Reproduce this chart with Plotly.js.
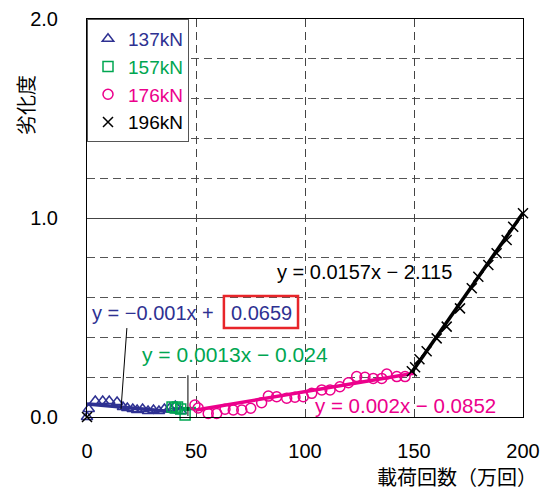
<!DOCTYPE html>
<html><head><meta charset="utf-8">
<script src="https://cdn.plot.ly/plotly-3.0.1.min.js"></script>
<style>body{margin:0;background:#fff}#c{width:545px;height:491px}</style>
</head><body><div id="c"></div>
<script>
// Data
const names = ['137kN', '157kN', '176kN', '196kN'];
const colors = ['#2E3192', '#00A651', '#EC008C', '#000000'];

const x137 = [0, 0.8, 3.8, 7.2, 10.2, 13.8, 16.5, 18.5, 21, 23, 25.5, 28, 30.5, 33, 35.5, 38, 40.5, 43];
const y137 = [0, 0.04, 0.08, 0.08, 0.08, 0.075, 0.05, 0.045, 0.04, 0.035, 0.04, 0.03, 0.035, 0.03, 0.04, 0.045, 0.055, 0.03];

const x157 = [39, 40.5, 41.5, 43, 45];
const y157 = [0.05, 0.045, 0.05, 0.04, 0.01];

const x176 = [49.5, 51, 55.6, 59.5, 63.3, 67.1, 71, 75.1, 80.1, 83.2, 87, 91.6, 95.4, 99.2, 103.1, 107.7, 111.5, 116, 119.9, 123.7, 127.5, 131.3, 135.2, 137.5, 142.1, 145.9];
const y176 = [0.06, 0.045, 0.018, 0.018, 0.039, 0.035, 0.035, 0.044, 0.072, 0.105, 0.102, 0.094, 0.099, 0.102, 0.119, 0.136, 0.136, 0.152, 0.172, 0.203, 0.2, 0.194, 0.194, 0.216, 0.203, 0.203];

const x196 = [0, 149, 150.5, 152.5, 155.8, 160.4, 165, 171.1, 176.5, 179.5, 184.1, 187.9, 192.5, 195.5, 200];
const y196 = [0, 0.23, 0.25, 0.29, 0.33, 0.395, 0.454, 0.546, 0.647, 0.705, 0.764, 0.823, 0.889, 0.956, 1.024];

// Trendline end points
const tx137 = [0, 41], ty137 = [0.066, 0.025];
const tx157 = [39, 50], ty157 = [0.04, 0.043];
const tx176 = [50, 150], ty176 = [0.035, 0.22];
const tx196 = [149, 200], ty196 = [0.225, 1.025];

const eq137a = 'y = −0.001x +', eq137b = '0.0659';
const eq157 = 'y = 0.0013x − 0.024';
const eq176 = 'y = 0.002x − 0.0852';
const eq196 = 'y = 0.0157x − 2.115';

const xTicks = [0, 50, 100, 150, 200];
const yTicks = [0, 1, 2];
const yTickText = ['0.0', '1.0', '2.0'];
const xTitle = '載荷回数（万回）';
const yTitle = '劣化度';

const F = 'Liberation Sans, Arial, sans-serif';
const J = 'Noto Sans CJK JP, sans-serif';

const symbols = ['triangle-up-open', 'square-open', 'circle-open', 'x-thin-open'];
const xs = [x137, x157, x176, x196], ys = [y137, y157, y176, y196];
const txs = [tx137, tx157, tx176, tx196], tys = [ty137, ty157, ty176, ty196];

const traces = [];
for (let i = 0; i < 4; i++) {
  traces.push({
    x: txs[i], y: tys[i], mode: 'lines', showlegend: false, hoverinfo: 'skip',
    line: {color: colors[i], width: 3.5}
  });
}
for (let i = 0; i < 4; i++) {
  traces.push({
    x: xs[i], y: ys[i], mode: 'markers', cliponaxis: false,
    name: '<span style="color:' + colors[i] + '">' + names[i] + '</span>',
    marker: {symbol: symbols[i], size: 10, color: colors[i],
             line: {color: colors[i], width: 1.5}}
  });
}

const layout = {
  width: 545, height: 491,
  margin: {l: 87, r: 22, t: 19, b: 74},
  paper_bgcolor: '#fff', plot_bgcolor: '#fff',
  showlegend: true,
  legend: {x: 0, y: 1, xanchor: 'left', yanchor: 'top', bgcolor: '#fff',
           bordercolor: '#555', borderwidth: 1, font: {family: F, size: 19},
           itemwidth: 30, tracegroupgap: 0},
  xaxis: {range: [0, 200], tickvals: xTicks, ticks: '', showline: true, mirror: true,
          linecolor: '#000', linewidth: 1, showgrid: true, gridcolor: '#444', griddash: '8px,5px',
          gridwidth: 1, zeroline: false, tickfont: {family: F, size: 20, color: '#000'},
          ticklabelstandoff: 16},
  yaxis: {range: [0, 2], tickvals: yTicks, ticktext: yTickText, ticks: '', showline: true, mirror: true,
          linecolor: '#000', linewidth: 1, showgrid: true, gridcolor: '#444', gridwidth: 1,
          zeroline: false, tickfont: {family: F, size: 20, color: '#000'}, ticklabelstandoff: 24,
          minor: {dtick: 0.2, tick0: 0, showgrid: true, gridcolor: '#555', griddash: '8px,5px', gridwidth: 1}},
  annotations: [
    {text: yTitle, xref: 'paper', yref: 'paper', x: -0.14, y: 0.784, xanchor: 'center', yanchor: 'middle',
     textangle: -90, showarrow: false, font: {family: J, size: 20, color: '#000'}},
    {text: xTitle, xref: 'paper', yref: 'paper', x: 1.036, y: -0.149, xanchor: 'right', yanchor: 'middle',
     showarrow: false, font: {family: J, size: 20, color: '#000'}},
    {text: eq196, x: 86.2, y: 0.729, xanchor: 'left', showarrow: false,
     font: {family: F, size: 20, color: colors[3]}},
    {text: eq137a, x: 1.2, y: 0.523, xanchor: 'left', showarrow: false,
     font: {family: F, size: 20, color: colors[0]}},
    {text: eq137b, x: 80, y: 0.525, xanchor: 'center', showarrow: false,
     font: {family: F, size: 20, color: colors[0]}},
    {text: eq157, x: 24.3, y: 0.312, xanchor: 'left', showarrow: false,
     font: {family: F, size: 21, color: colors[1]}},
    {text: eq176, x: 103.7, y: 0.06, xanchor: 'left', showarrow: false,
     font: {family: F, size: 20.5, color: colors[2]}}
  ],
  shapes: [
    {type: 'rect', x0: 62.8, x1: 96.8, y0: 0.447, y1: 0.608, line: {color: '#E8252A', width: 2.5}},
    {type: 'line', x0: 18.3, y0: 0.447, x1: 15.6, y1: 0.04, line: {color: '#000', width: 1}},
    {type: 'line', x0: 46.3, y0: 0.21, x1: 46.3, y1: 0.005, line: {color: '#000', width: 1}}
  ]
};

Plotly.newPlot('c', traces, layout, {displayModeBar: false, staticPlot: true});
</script>
</body></html>
